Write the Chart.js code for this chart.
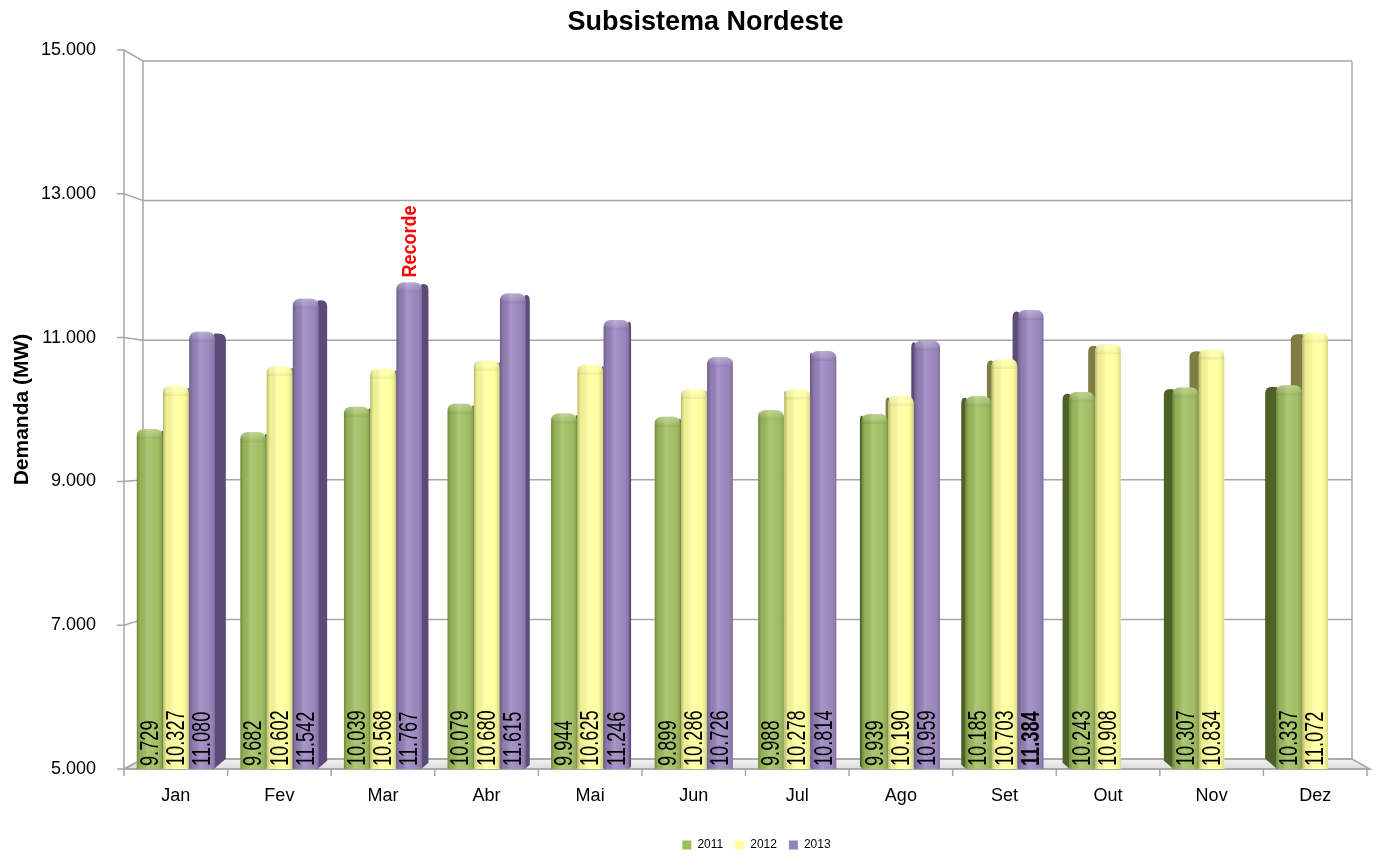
<!DOCTYPE html>
<html>
<head>
<meta charset="utf-8">
<script src="https://cdn.jsdelivr.net/npm/chart.js@4.4.1/dist/chart.umd.min.js"></script>
<style>
  html, body { margin: 0; padding: 0; background: #ffffff; }
  #wrap { width: 1376px; height: 856px; }
</style>
</head>
<body>
<div id="wrap"><canvas id="c" width="1376" height="856"></canvas></div>
<script>
// Monthly peak demand, Northeast subsystem (MW)
const months = ['Jan', 'Fev', 'Mar', 'Abr', 'Mai', 'Jun', 'Jul', 'Ago', 'Set', 'Out', 'Nov', 'Dez'];
const years = ['2011', '2012', '2013'];
const demand2011 = [9729, 9682, 10039, 10079, 9944, 9899, 9988, 9939, 10185, 10243, 10307, 10337];
const demand2012 = [10327, 10602, 10568, 10680, 10625, 10286, 10278, 10190, 10703, 10908, 10834, 11072];
const demand2013 = [11080, 11542, 11767, 11615, 11246, 10726, 10814, 10959, 11384, null, null, null];
const yTickValues = [5000, 7000, 9000, 11000, 13000, 15000];
const recordNote = { dataset: 2, index: 2, text: 'Recorde' };
const boldValue = { dataset: 2, index: 8 };

const FONT = '"Liberation Sans Narrow", "Arial Narrow", "Liberation Sans", Arial, sans-serif';

const frontColors = ['#9dbd5c', '#ffff9c', '#9682bc'];
const sideColors = ['#4d6126', '#7e7d45', '#5c4a78'];

function fmt(v) {
  return String(v).replace(/\B(?=(\d{3})+(?!\d))/g, '.');
}

function roundTopPath(ctx, left, top, w, bottom, r) {
  r = Math.min(r, w / 2, (bottom - top) / 2);
  ctx.beginPath();
  ctx.moveTo(left, bottom);
  ctx.lineTo(left, top + r);
  ctx.quadraticCurveTo(left, top, left + r, top);
  ctx.lineTo(left + w - r, top);
  ctx.quadraticCurveTo(left + w, top, left + w, top + r);
  ctx.lineTo(left + w, bottom);
  ctx.closePath();
}

// Geometry of one drawn column, with its foot held on the floor of the plot
function barGeom(chart, bar) {
  const p = bar.getProps(['x', 'y', 'base', 'width'], true);
  return { x: p.x, y: p.y, w: p.width, base: Math.min(p.base, chart.chartArea.bottom) };
}

// Perspective frame: back wall, floor, gridlines and the visible side faces of the columns
const frame3d = {
  id: 'frame3d',
  afterLayout(chart) {
    // title and legend rows sit slightly right of centre
    const tb = chart.titleBlock;
    if (tb) { tb.left += 22; tb.right += 22; }
    const lg = chart.legend;
    if (lg) {
      lg.left += 73; lg.right += 73;
      lg.top += 5; lg.bottom += 5;
    }
  },
  beforeDatasetsDraw(chart) {
    const { ctx, chartArea: a, scales: { x, y } } = chart;
    const bTop = a.top + 11, bBot = a.bottom - 10;
    const back = py => bTop + (py - a.top) * (bBot - bTop) / (a.bottom - a.top);
    const bl = a.left + 19, br = a.right - 15;
    ctx.save();

    // floor
    const fg = ctx.createLinearGradient(0, bBot, 0, a.bottom);
    fg.addColorStop(0, '#f2f2f2');
    fg.addColorStop(1, '#dcdcdc');
    ctx.beginPath();
    ctx.moveTo(a.left, a.bottom);
    ctx.lineTo(bl, bBot);
    ctx.lineTo(br, bBot);
    ctx.lineTo(a.right + 3, a.bottom);
    ctx.closePath();
    ctx.fillStyle = fg;
    ctx.fill();
    ctx.strokeStyle = '#a6a6a6';
    ctx.lineWidth = 1.5;
    ctx.stroke();

    // gridlines on the back wall with their connectors to the front axis
    y.ticks.forEach(t => {
      const py = y.getPixelForValue(t.value);
      const pb = back(py);
      ctx.beginPath();
      ctx.moveTo(a.left - 7, py);
      ctx.lineTo(a.left, py);
      ctx.lineTo(bl, pb);
      ctx.lineTo(br, pb);
      ctx.stroke();
    });

    // wall edges
    ctx.beginPath();
    ctx.moveTo(a.left, a.top); ctx.lineTo(a.left, a.bottom);
    ctx.moveTo(bl, bTop); ctx.lineTo(bl, bBot);
    ctx.moveTo(br, bTop); ctx.lineTo(br, bBot);
    ctx.moveTo(a.left, a.bottom); ctx.lineTo(a.right + 3, a.bottom);
    ctx.stroke();

    // category tick marks
    const step = (a.right - a.left) / months.length;
    ctx.beginPath();
    for (let i = 0; i <= months.length; i++) {
      const px = x.getPixelForValue(0) - step / 2 + i * step;
      ctx.moveTo(px, a.bottom);
      ctx.lineTo(px, a.bottom + 7);
    }
    ctx.stroke();

    // side faces of the columns
    const mid = (a.left + a.right) / 2;
    chart.data.datasets.forEach((ds, di) => {
      const meta = chart.getDatasetMeta(di);
      if (meta.hidden) return;
      meta.data.forEach((bar, i) => {
        if (ds.data[i] == null) return;
        const p = barGeom(chart, bar);
        const s = (mid - p.x) * 0.022;
        if (Math.abs(s) < 0.5) return;
        const edge = s > 0 ? p.x + p.w / 2 - 1 : p.x - p.w / 2 + 1;
        ctx.beginPath();
        ctx.moveTo(edge, p.base);
        ctx.lineTo(edge, p.y + 2);
        ctx.quadraticCurveTo(edge + s, p.y, edge + s, p.y + 8);
        ctx.lineTo(edge + s, p.base - Math.abs(s) * 0.85);
        ctx.closePath();
        ctx.fillStyle = sideColors[di];
        ctx.fill();
      });
    });
    ctx.restore();
  },

  afterDatasetsDraw(chart) {
    const { ctx } = chart;
    ctx.save();
    chart.data.datasets.forEach((ds, di) => {
      const meta = chart.getDatasetMeta(di);
      if (meta.hidden) return;
      meta.data.forEach((bar, i) => {
        const v = ds.data[i];
        if (v == null) return;
        const p = barGeom(chart, bar);
        const left = p.x - p.w / 2;

        // cylindrical shading across the face
        ctx.save();
        roundTopPath(ctx, left, p.y, p.w, p.base, 7);
        ctx.clip();
        const g = ctx.createLinearGradient(left, 0, left + p.w, 0);
        g.addColorStop(0, 'rgba(0,0,0,0.28)');
        g.addColorStop(0.14, 'rgba(0,0,0,0.06)');
        g.addColorStop(0.42, 'rgba(255,255,255,0.16)');
        g.addColorStop(0.75, 'rgba(255,255,255,0.04)');
        g.addColorStop(1, 'rgba(0,0,0,0.16)');
        ctx.fillStyle = g;
        ctx.fillRect(left, p.y, p.w, p.base - p.y);
        const cap = ctx.createLinearGradient(0, p.y, 0, p.y + 10);
        cap.addColorStop(0, 'rgba(255,255,255,0.25)');
        cap.addColorStop(0.6, 'rgba(255,255,255,0.08)');
        cap.addColorStop(1, 'rgba(0,0,0,0.06)');
        ctx.fillStyle = cap;
        ctx.fillRect(left, p.y, p.w, 10);
        ctx.restore();

        // value label, written upward from the floor in a condensed face
        const bold = di === boldValue.dataset && i === boldValue.index;
        ctx.save();
        ctx.translate(p.x, p.base - 3);
        ctx.rotate(-Math.PI / 2);
        ctx.scale(0.7, 1);
        ctx.font = (bold ? 'bold ' : '') + '26px ' + FONT;
        ctx.fillStyle = '#000000';
        ctx.textAlign = 'left';
        ctx.textBaseline = 'middle';
        ctx.fillText(fmt(v), 0, 1);
        ctx.restore();

        if (di === recordNote.dataset && i === recordNote.index) {
          ctx.save();
          ctx.translate(p.x + 1, p.y - 5);
          ctx.rotate(-Math.PI / 2);
          ctx.scale(0.9, 1);
          ctx.font = 'bold 20px ' + FONT;
          ctx.fillStyle = '#ff0000';
          ctx.textAlign = 'left';
          ctx.textBaseline = 'middle';
          ctx.fillText(recordNote.text, 0, 0);
          ctx.restore();
        }
      });
    });
    ctx.restore();
  }
};

const seriesValues = [demand2011, demand2012, demand2013];

new Chart(document.getElementById('c'), {
  type: 'bar',
  data: {
    labels: months,
    datasets: years.map((yr, k) => ({
      label: yr,
      data: seriesValues[k],
      backgroundColor: frontColors[k],
      borderWidth: 0,
      borderRadius: { topLeft: 7, topRight: 7, bottomLeft: 0, bottomRight: 0 },
      borderSkipped: 'start',
      categoryPercentage: 0.76,
      barPercentage: 0.98
    }))
  },
  options: {
    responsive: false,
    animation: false,
    devicePixelRatio: 1,
    layout: { autoPadding: false, padding: { left: 0, right: 9, top: 0, bottom: 0 } },
    plugins: {
      title: {
        display: true,
        text: 'Subsistema Nordeste',
        color: '#000000',
        font: { family: FONT, size: 27, weight: 'bold' },
        padding: { top: 6, bottom: 11.6 }
      },
      legend: {
        position: 'bottom',
        labels: {
          color: '#000000',
          font: { family: FONT, size: 12 },
          boxWidth: 9,
          boxHeight: 9,
          padding: 12
        }
      },
      tooltip: { enabled: false }
    },
    scales: {
      x: {
        grid: { display: false },
        border: { display: false },
        ticks: { color: '#000000', font: { family: FONT, size: 18 }, padding: 8 },
        afterFit(scale) { scale.height = 53; }
      },
      y: {
        min: 5000,
        max: 15000,
        grid: { display: false },
        border: { display: false },
        afterBuildTicks(scale) { scale.ticks = yTickValues.map(v => ({ value: v })); },
        ticks: {
          color: '#000000',
          font: { family: FONT, size: 18 },
          padding: 20,
          callback: v => fmt(v)
        },
        title: {
          display: true,
          text: 'Demanda (MW)',
          color: '#000000',
          font: { family: FONT, size: 21, weight: 'bold' },
          padding: { top: 10, bottom: 0 }
        },
        afterFit(scale) { scale.width = 124; }
      }
    }
  },
  plugins: [frame3d]
});
</script>
</body>
</html>
